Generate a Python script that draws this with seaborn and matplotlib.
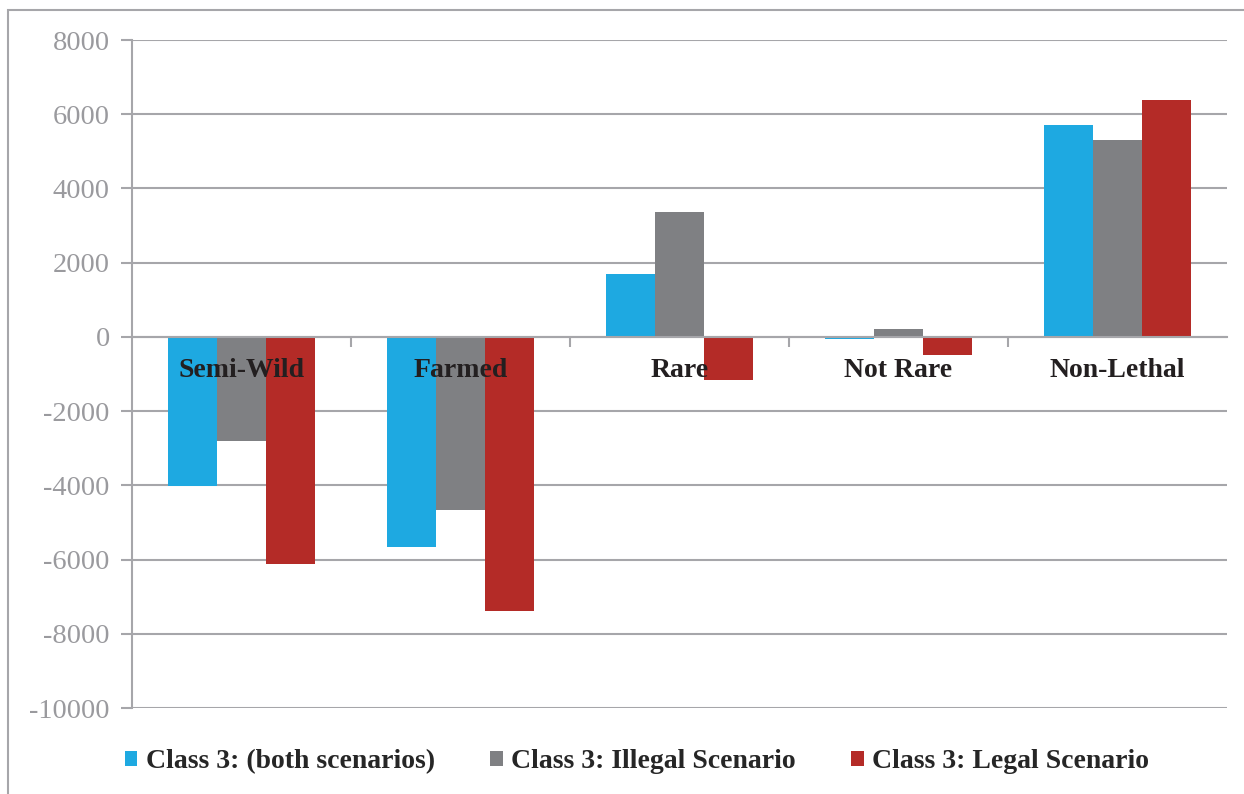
import pandas as pd
import seaborn as sns
import matplotlib.pyplot as plt
from matplotlib.patches import Rectangle

# Data
categories = ['Semi-Wild', 'Farmed', 'Rare', 'Not Rare', 'Non-Lethal']
series = ['Class 3: (both scenarios)', 'Class 3: Illegal Scenario', 'Class 3: Legal Scenario']
both_vals = [-4010, -5660, 1700, -45, 5710]
illegal_vals = [-2800, -4660, 3370, 210, 5310]
legal_vals = [-6110, -7390, -1160, -480, 6390]
colors = ['#1EA9E1', '#7F8083', '#B42B27']
yticks = list(range(-10000, 8001, 2000))

df = pd.DataFrame({
    'category': categories * 3,
    'series': [series[0]] * 5 + [series[1]] * 5 + [series[2]] * 5,
    'value': both_vals + illegal_vals + legal_vals,
})

sns.set_style('white')
plt.rcParams['font.family'] = ['Liberation Serif', 'DejaVu Serif']

fig = plt.figure(figsize=(12.44, 7.94), dpi=100)
ax = fig.add_axes([0.1061, 0.1083, 0.8802, 0.8413])

sns.barplot(data=df, x='category', y='value', hue='series', order=categories,
            hue_order=series, palette=colors, width=0.67, saturation=1,
            edgecolor='none', linewidth=0, ax=ax, zorder=3)

ax.set_ylim(-10000, 8000)
ax.set_xlim(-0.5, 4.5)
ax.set_yticks(yticks)
ax.set_yticklabels([str(t) for t in yticks], fontsize=20.5, color='#9A9A9E')
ax.yaxis.grid(True, color='#A6A6AA', linewidth=1.5, zorder=0)
ax.set_xlabel('')
ax.set_ylabel('')

# x ticks at category boundaries on the zero line
ax.set_xticks([i + 0.5 for i in range(4)])
ax.set_xticklabels([])
ax.spines['bottom'].set_position(('data', 0))
ax.spines['bottom'].set_color('#A6A6AA')
ax.spines['bottom'].set_linewidth(1.5)
ax.spines['bottom'].set_zorder(4)
ax.spines['left'].set_color('#A6A6AA')
ax.spines['left'].set_linewidth(1.5)
ax.spines['top'].set_visible(False)
ax.spines['right'].set_visible(False)
ax.tick_params(axis='x', direction='out', length=7, width=1.5, color='#A6A6AA', bottom=True)
ax.tick_params(axis='y', direction='out', length=8, width=1.5, color='#A6A6AA', left=True, pad=8)

for i, cat in enumerate(categories):
    ax.text(i, -900, cat, ha='center', va='center', fontsize=20,
            fontweight='bold', color='#231F20', zorder=5)

handles, labels = ax.get_legend_handles_labels()
ax.legend_.remove()
fig.legend(handles, labels, loc='center', bbox_to_anchor=(0.512, 0.041), ncol=3,
           frameon=False, handlelength=0.45, handleheight=0.45, handletextpad=0.3,
           columnspacing=2.0, prop={'weight': 'bold', 'size': 20})

# outer frame
fig.patches.append(Rectangle((8 / 1244, -0.01), 1.1, 1 - 10 / 794 + 0.01,
                             transform=fig.transFigure, fill=False,
                             edgecolor='#A6A6AA', linewidth=1.5))

fig.savefig('out.png', dpi=100)
